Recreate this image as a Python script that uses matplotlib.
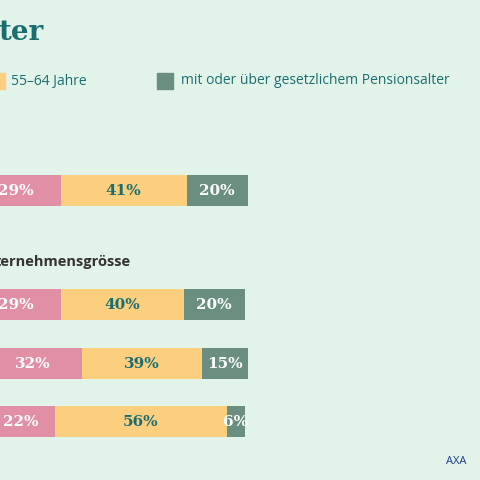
import matplotlib.pyplot as plt

# Anteile je Altersgruppe (erste Gruppe ist links abgeschnitten)
rows = ['Total', 'klein', 'mittel', 'gross']
first = [10, 10, 14, 15]
pink = [29, 29, 32, 22]
yellow = [41, 40, 39, 56]
green = [20, 20, 15, 6]

BG = '#e2f3ea'
TEAL = '#1b6e70'
colors = ['#7fb3c9', '#e08fa5', '#fccf7f', '#6a8f80']
txtcol = ['white', 'white', TEAL, 'white']

fig = plt.figure(figsize=(4.8, 4.8), dpi=100)
fig.patch.set_facecolor(BG)

# Achse so legen, dass 100% bei x=248px endet, Start bei -59px (abgeschnitten)
ax = fig.add_axes([-59 / 480, 0, 307 / 480, 1])
ax.set_facecolor(BG)
ax.set_xlim(0, 100)
ax.set_ylim(480, 0)
ax.axis('off')

ycent = [190, 304, 363, 421]
for i, y in enumerate(ycent):
    left = 0
    for k, vals in enumerate([first, pink, yellow, green]):
        v = vals[i]
        ax.barh(y, v, left=left, height=31, color=colors[k])
        if k > 0:
            ax.text(left + v / 2, y + 1, f'{v}%', ha='center', va='center',
                    color=txtcol[k], fontsize=11, fontweight='bold', family='DejaVu Serif')
        left += v

fig.text(-2 / 480, 1 - 33 / 480, 'ter', color=TEAL, fontsize=20, fontweight='bold',
         family='DejaVu Serif', va='center')
fig.text(-5 / 480, 1 - 262 / 480, 'ternehmensgrösse', color='#333333', fontsize=10.5,
         fontweight='bold', family='Open Sans', va='center')

# Legende
fig.patches.append(plt.Rectangle((-8 / 480, 1 - 89 / 480), 13 / 480, 16 / 480,
                                 transform=fig.transFigure, color=colors[2]))
fig.text(11 / 480, 1 - 81 / 480, '55–64 Jahre', color=TEAL, fontsize=10,
         family='Open Sans', va='center')
fig.patches.append(plt.Rectangle((157 / 480, 1 - 89 / 480), 16 / 480, 16 / 480,
                                 transform=fig.transFigure, color=colors[3]))
fig.text(181 / 480, 1 - 81 / 480, 'mit oder über gesetzlichem Pensionsalter', color=TEAL,
         fontsize=10, family='Open Sans', va='center')

fig.text(466 / 480, 1 - 462 / 480, 'AXA', color='#1f3a8a', fontsize=8,
         family='Open Sans', ha='right', va='center')

fig.savefig('out.png', dpi=100, facecolor=BG)
